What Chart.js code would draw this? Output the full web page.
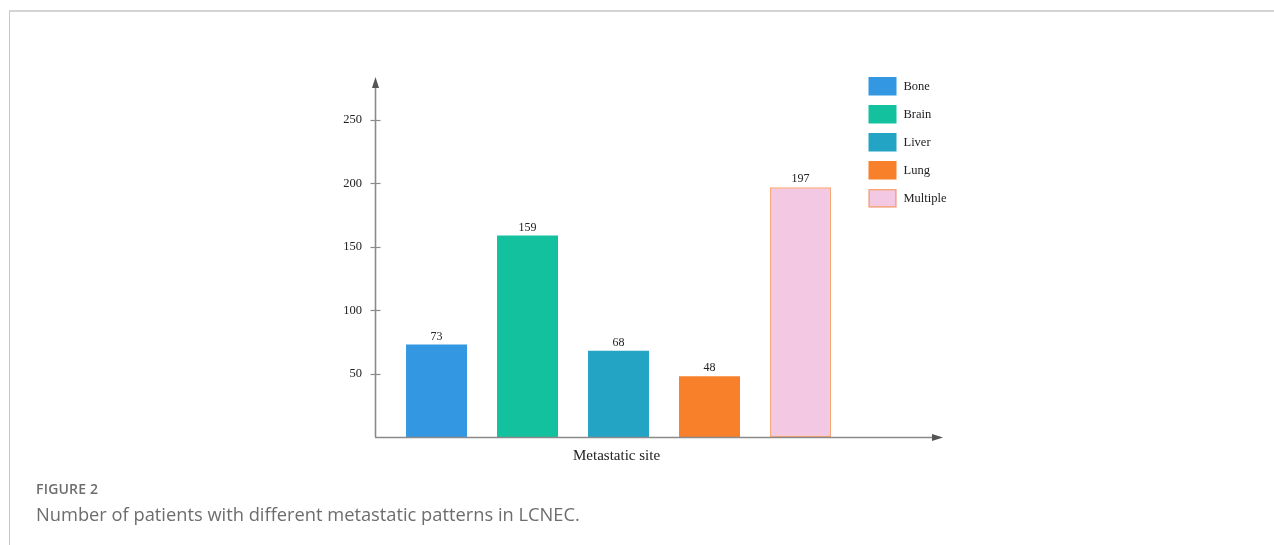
<!DOCTYPE html>
<html>
<head>
<meta charset="utf-8">
<script src="https://cdn.jsdelivr.net/npm/chart.js@4/dist/chart.umd.min.js"></script>
<style>
  html, body { margin: 0; padding: 0; background: #fff; }
  body { width: 1274px; height: 545px; position: relative; overflow: hidden; }
  #frame { position: absolute; left: 9px; top: 10px; right: -10px; bottom: -10px;
           border-top: 2px solid #d4d4d4; border-left: 1px solid #c8c8c8; }
  #wrap { position: absolute; left: 0; top: 0; width: 1274px; height: 545px; }
  .fig-num { position: absolute; left: 36px; top: 479px; font-family: "Open Sans", sans-serif;
             font-size: 14px; font-weight: 600; color: #6d6d6d; letter-spacing: 0.2px; }
  .fig-cap { position: absolute; left: 36px; top: 501px; font-family: "Open Sans", sans-serif;
             font-size: 18.3px; font-weight: 400; color: #6d6d6d; }
</style>
</head>
<body>
<div id="frame"></div>
<div id="wrap"><canvas id="chart" width="1274" height="545"></canvas></div>
<div class="fig-num">FIGURE 2</div>
<div class="fig-cap">Number of patients with different metastatic patterns in LCNEC.</div>
<script>
// Metastatic sites and patient counts
const categories = ['Bone', 'Brain', 'Liver', 'Lung', 'Multiple'];
const patients = [73, 159, 68, 48, 197];
const yTickValues = [50, 100, 150, 200, 250];
const fillColors = ['#3398e1', '#13c19e', '#24a4c4', '#f8802b', '#f2c8e3'];
const edgeColors = ['#3398e1', '#13c19e', '#24a4c4', '#f8802b', '#f7a676'];
const xAxisTitle = 'Metastatic site';

const SERIF = '"Liberation Serif", "Times New Roman", serif';
const AXIS = '#8a8a8a';

// Axes with arrowheads, crossing tick marks, value labels, axis title and legend
const decorations = {
  id: 'decorations',
  afterDatasetsDraw(chart) {
    const { ctx, chartArea: a, scales } = chart;
    const y = scales.y, x = scales.x;
    ctx.save();
    ctx.strokeStyle = AXIS;
    ctx.lineWidth = 1.6;
    ctx.beginPath();
    ctx.moveTo(a.left + 0.5, a.bottom);
    ctx.lineTo(a.left + 0.5, a.top + 6);
    ctx.moveTo(a.left, a.bottom + 0.5);
    ctx.lineTo(a.right + 2, a.bottom + 0.5);
    ctx.stroke();
    // tick marks
    ctx.lineWidth = 1.2;
    y.ticks.forEach(t => {
      const py = Math.round(y.getPixelForValue(t.value)) + 0.5;
      ctx.beginPath();
      ctx.moveTo(a.left - 4.5, py);
      ctx.lineTo(a.left + 5.5, py);
      ctx.stroke();
    });
    // arrowheads
    ctx.fillStyle = '#555';
    ctx.beginPath();
    ctx.moveTo(a.left + 0.5, a.top);
    ctx.lineTo(a.left - 3, a.top + 11);
    ctx.lineTo(a.left + 4, a.top + 11);
    ctx.closePath();
    ctx.fill();
    ctx.beginPath();
    ctx.moveTo(a.right + 8, a.bottom + 0.5);
    ctx.lineTo(a.right - 3, a.bottom - 3);
    ctx.lineTo(a.right - 3, a.bottom + 4);
    ctx.closePath();
    ctx.fill();

    // value labels above bars
    const meta = chart.getDatasetMeta(0);
    ctx.fillStyle = '#222';
    ctx.font = '12px ' + SERIF;
    ctx.textAlign = 'center';
    ctx.textBaseline = 'bottom';
    meta.data.forEach((bar, i) => {
      ctx.fillText(String(patients[i]), bar.x, bar.y - 2);
    });

    // x-axis title, centred under the bars
    ctx.font = '15px ' + SERIF;
    ctx.textBaseline = 'middle';
    ctx.fillText(xAxisTitle, x.getPixelForValue((categories.length - 1) / 2) - 2, a.bottom + 19);

    // legend
    const bx = a.right - 66.5, by = a.top;
    ctx.textAlign = 'left';
    ctx.font = '12.5px ' + SERIF;
    categories.forEach((name, i) => {
      const top = by + i * 28;
      ctx.fillStyle = fillColors[i];
      ctx.fillRect(bx, top, 28, 18.5);
      if (edgeColors[i] !== fillColors[i]) {
        ctx.strokeStyle = edgeColors[i];
        ctx.lineWidth = 1.4;
        ctx.strokeRect(bx + 0.7, top + 0.7, 26.6, 17.1);
      }
      ctx.fillStyle = '#222';
      ctx.fillText(name, bx + 35, top + 9.5);
    });
    ctx.restore();
  }
};

new Chart(document.getElementById('chart'), {
  type: 'bar',
  data: {
    datasets: [{
      data: patients.map((v, i) => ({ x: i, y: v })),
      backgroundColor: fillColors,
      borderColor: edgeColors,
      borderWidth: patients.map((v, i) => edgeColors[i] !== fillColors[i] ? 1.5 : 0),
      borderSkipped: false,
      categoryPercentage: 1,
      barPercentage: 0.67
    }]
  },
  options: {
    responsive: false,
    animation: false,
    devicePixelRatio: 1,
    layout: { padding: { left: 315, right: 339, top: 77, bottom: 108 } },
    plugins: { legend: { display: false }, tooltip: { enabled: false } },
    scales: {
      x: {
        type: 'linear',
        offset: false,
        min: -0.676,
        max: 5.478,
        grid: { display: false },
        border: { display: false },
        ticks: { display: false },
        afterFit(s) { s.height = 0; }
      },
      y: {
        min: 0,
        max: 284,
        grid: { display: false },
        border: { display: false },
        ticks: { color: '#222', padding: 5, font: { family: SERIF, size: 12.5 } },
        afterBuildTicks(s) { s.ticks = yTickValues.map(v => ({ value: v })); },
        afterFit(s) { s.width = 60; }
      }
    }
  },
  plugins: [decorations]
});
</script>
</body>
</html>
